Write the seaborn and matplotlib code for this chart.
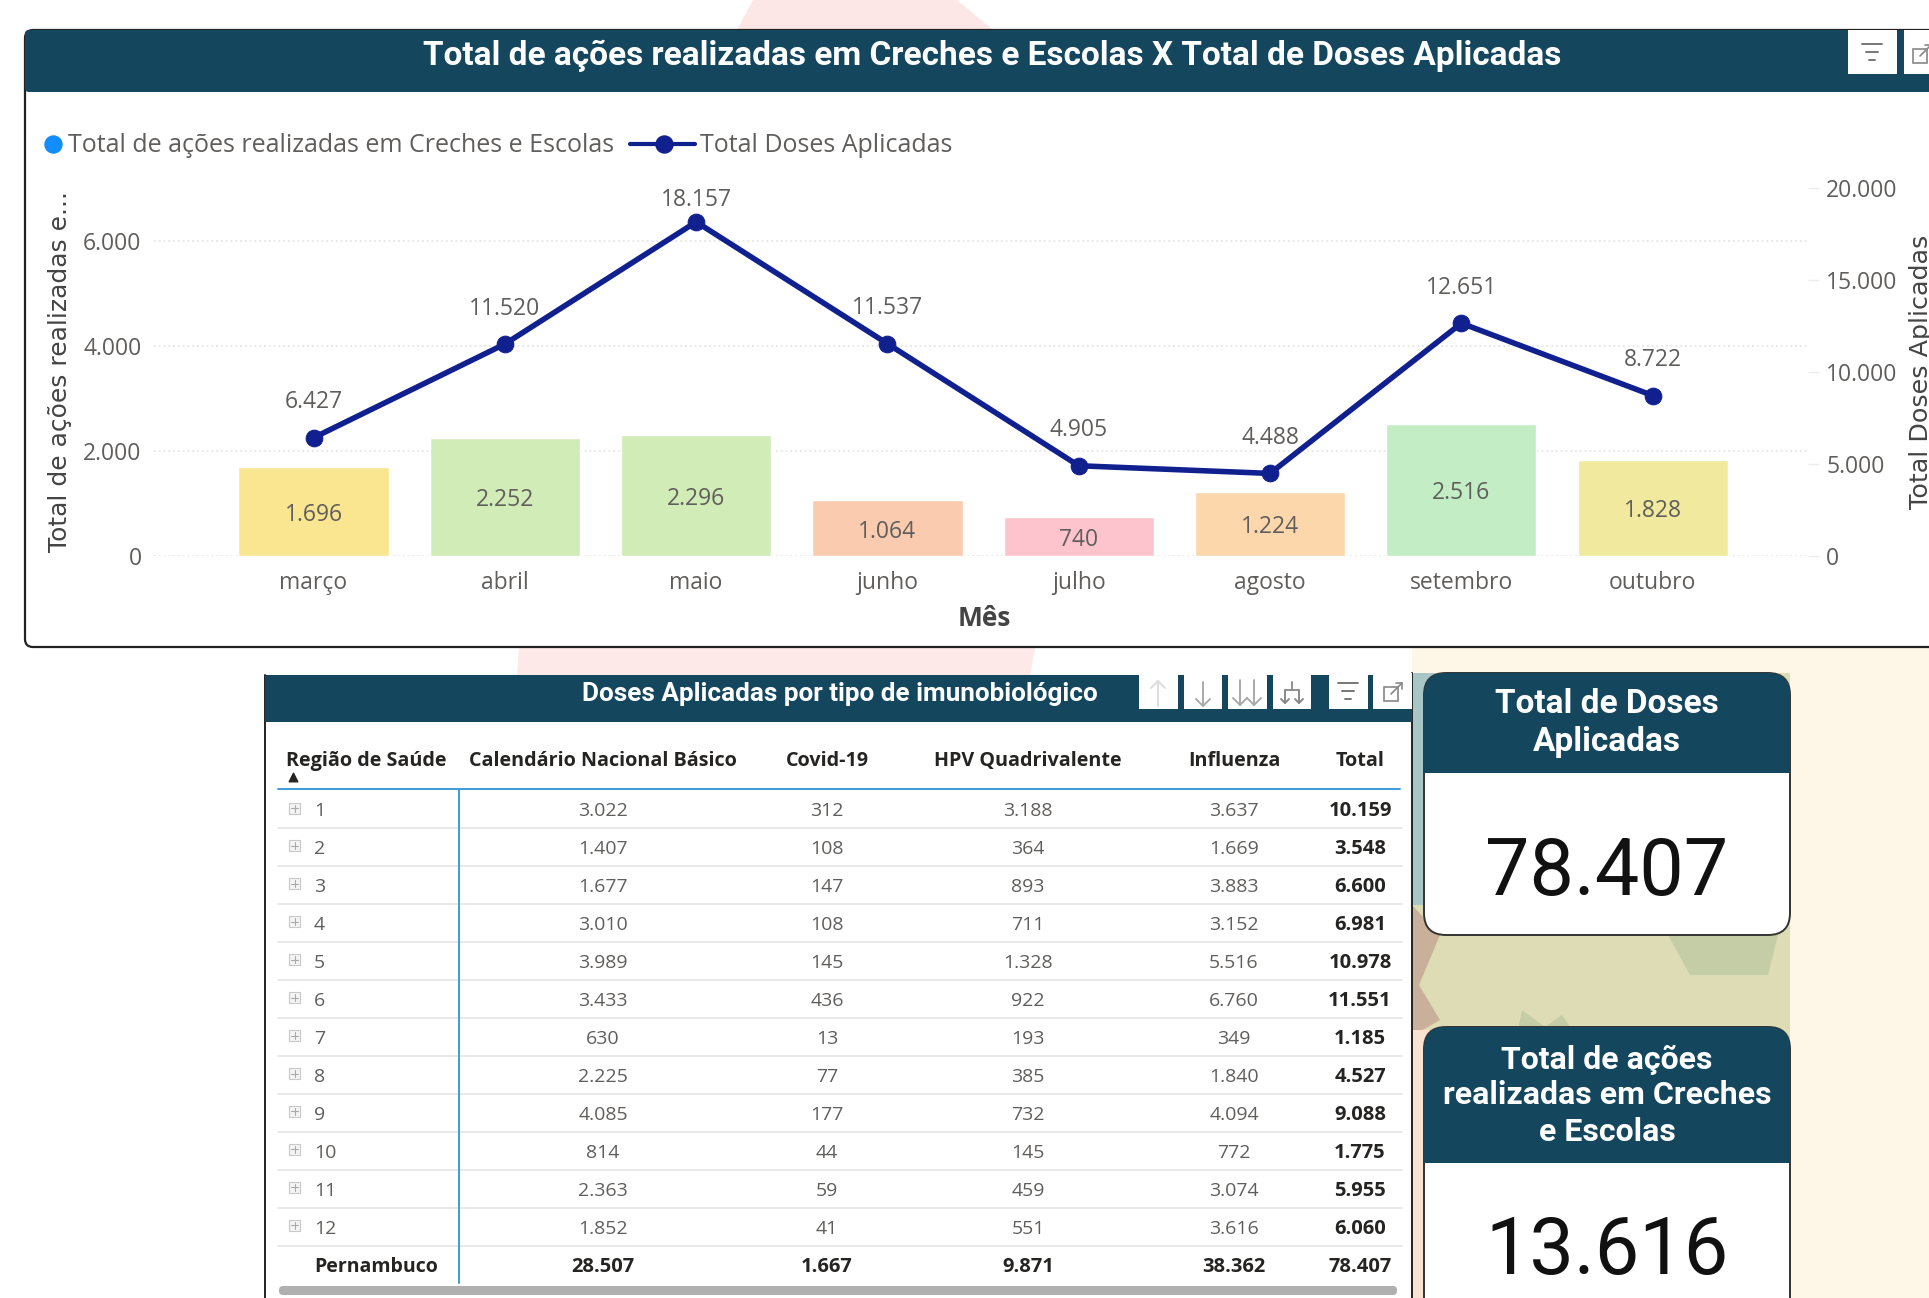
import numpy as np
import pandas as pd
import matplotlib.pyplot as plt
import seaborn as sns
from matplotlib.patches import FancyBboxPatch, Polygon, Rectangle

# ===================== dados =====================
MESES = ['março', 'abril', 'maio', 'junho', 'julho', 'agosto', 'setembro', 'outubro']
ACOES = [1696, 2252, 2296, 1064, 740, 1224, 2516, 1828]
DOSES = [6427, 11520, 18157, 11537, 4905, 4488, 12651, 8722]
CORES_BARRAS = ['#FAE591', '#D2ECB7', '#D2ECB7', '#FBCBB0', '#FDC4CD', '#FDD7AC', '#C3EDC4', '#F0E99E']
TICKS_ACOES = [0, 2000, 4000, 6000]
TICKS_DOSES = [0, 5000, 10000, 15000, 20000]

REGIOES = ['1', '2', '3', '4', '5', '6', '7', '8', '9', '10', '11', '12', 'Pernambuco']
CALENDARIO = [3022, 1407, 1677, 3010, 3989, 3433, 630, 2225, 4085, 814, 2363, 1852, 28507]
COVID = [312, 108, 147, 108, 145, 436, 13, 77, 177, 44, 59, 41, 1667]
HPV = [3188, 364, 893, 711, 1328, 922, 193, 385, 732, 145, 459, 551, 9871]
INFLUENZA = [3637, 1669, 3883, 3152, 5516, 6760, 349, 1840, 4094, 772, 3074, 3616, 38362]
TOTAL = [10159, 3548, 6600, 6981, 10978, 11551, 1185, 4527, 9088, 1775, 5955, 6060, 78407]
TOTAL_DOSES = 78407
TOTAL_ACOES = 13616

AZUL = '#14475E'
CINZA = '#605E5C'
LINHA = '#10208F'
TITULO = 'Roboto'
TEXTO = ['Open Sans', 'DejaVu Sans']


def fmt(v):
    return f'{v:,}'.replace(',', '.')


sns.set_style('white')
W, H = 1929, 1298
fig = plt.figure(figsize=(W / 100, H / 100), dpi=100, facecolor='white')

# camada de fundo em pixels
bg = fig.add_axes([0, 0, 1, 1], zorder=0)
bg.set_xlim(0, W)
bg.set_ylim(H, 0)
bg.axis('off')

bg.add_patch(Polygon([(753, 0), (957, 0), (993, 30), (737, 30)], fc='#FDE6E6', ec='none'))
bg.add_patch(Polygon([(519, 648), (1035, 648), (1030, 676), (517, 676)], fc='#FDE9E7', ec='none'))
bg.add_patch(Rectangle((1412, 648), W - 1412, H - 648, fc='#FEF6E6', ec='none'))
bg.add_patch(Rectangle((1412, 673), 378, 600, fc='#DEDCB4', ec='none'))
bg.add_patch(Rectangle((1412, 673), 30, 232, fc='#A9C6C6', ec='none'))
bg.add_patch(Polygon([(1412, 905), (1440, 935), (1419, 985), (1440, 1020), (1412, 1036)], fc='#C9B09B', ec='none'))
bg.add_patch(Rectangle((1412, 1030), 20, 268, fc='#FBE3D2', ec='none'))
bg.add_patch(Polygon([(1668, 935), (1778, 935), (1768, 975), (1690, 975)], fc='#C4CDA5', ec='none'))
bg.add_patch(Polygon([(1518, 1030), (1522, 1010), (1545, 1027), (1562, 1015), (1572, 1030)], fc='#C4CDA5', ec='none'))


def botao(x0, x1, y0, y1):
    bg.add_patch(Rectangle((x0, y0), x1 - x0, y1 - y0, fc='white', ec='none', zorder=3))


def icone_filtro(cx, cy):
    for larg, dy in [(10, -8), (6, 0), (3, 8)]:
        bg.plot([cx - larg, cx + larg], [cy + dy, cy + dy], color='#777777', lw=1.4, zorder=4)


def icone_expandir(cx, cy):
    bg.add_patch(Rectangle((cx - 9, cy - 5), 14, 14, fc='none', ec='#888888', lw=1.2, zorder=4))
    bg.plot([cx - 2, cx + 9], [cy + 2, cy - 9], color='#888888', lw=1.2, zorder=4)
    bg.plot([cx + 3, cx + 9, cx + 9], [cy - 9, cy - 9, cy - 3], color='#888888', lw=1.2, zorder=4)


def seta(cx, y0, y1, cor, ponta=7):
    bg.plot([cx, cx], [y0, y1], color=cor, lw=1.4, zorder=4)
    sentido = 1 if y1 > y0 else -1
    bg.plot([cx - ponta, cx, cx + ponta], [y1 - ponta * sentido, y1, y1 - ponta * sentido],
            color=cor, lw=1.4, zorder=4)


# painel do gráfico
bg.add_patch(FancyBboxPatch((25, 30), W, 617, boxstyle='round,pad=0,rounding_size=8',
                            fc='white', ec='#222222', lw=1.6, zorder=1))
bg.add_patch(FancyBboxPatch((25, 30), W, 62, boxstyle='round,pad=0,rounding_size=4',
                            fc=AZUL, ec='none', zorder=2))
bg.text(992, 56, 'Total de ações realizadas em Creches e Escolas X Total de Doses Aplicadas',
        color='white', fontsize=24, fontweight='bold', family=TITULO, ha='center', va='center', zorder=3)
botao(1848, 1897, 30, 74)
icone_filtro(1872, 52)
botao(1904, W, 30, 74)
icone_expandir(1922, 54)

# legenda
bg.scatter([53], [144], s=150, color='#118DFF', zorder=3)
bg.text(68, 146, 'Total de ações realizadas em Creches e Escolas', color=CINZA, fontsize=18,
        family=TEXTO, va='center', zorder=3)
bg.plot([630, 695], [144, 144], color=LINHA, lw=3, zorder=3)
bg.scatter([664], [144], s=150, color=LINHA, zorder=4)
bg.text(700, 146, 'Total Doses Aplicadas', color=CINZA, fontsize=18, family=TEXTO, va='center', zorder=3)

# ===================== barras + linha =====================
AX_L, AX_R, AX_T, AX_B = 154, 1808, 188, 556
ax = fig.add_axes([AX_L / W, 1 - AX_B / H, (AX_R - AX_L) / W, (AX_B - AX_T) / H], zorder=2)
ax.patch.set_alpha(0)
df = pd.DataFrame({'mes': MESES, 'acoes': ACOES, 'doses': DOSES})
sns.barplot(data=df, x='mes', y='acoes', hue='mes', palette=CORES_BARRAS, width=0.785,
            legend=False, saturation=1, ax=ax)
for c, v in zip(ax.containers, ACOES):
    rotulos = ax.bar_label(c, labels=[fmt(v)], label_type='center', color=CINZA, fontsize=16.5, family=TEXTO)
    for r in rotulos:
        r.xyann = (0, -2.5)
ax.set_xlim(-0.834, 7.812)
ax.set_ylim(0, 7000)
ax.set_yticks(TICKS_ACOES, [fmt(t) for t in TICKS_ACOES])
ax.grid(axis='y', color='#E6E6E6', ls=':', lw=1.3)
ax.set_axisbelow(True)
ax.tick_params(axis='both', length=0, labelsize=16.5, labelcolor=CINZA)
ax.tick_params(axis='x', pad=11)
ax.tick_params(axis='y', pad=9)
for t in ax.get_xticklabels() + ax.get_yticklabels():
    t.set_family(TEXTO)
ax.set_xlabel('Mês', fontsize=19, fontweight='bold', color='#444444', family=TEXTO)
ax.xaxis.set_label_coords((984 - AX_L) / (AX_R - AX_L), (AX_B - 619) / (AX_B - AX_T), ax.transAxes)
ax.xaxis.label.set_va('center')
ax.set_ylabel('Total de ações realizadas e...', fontsize=18, color='#444444', family='DejaVu Sans')
ax.yaxis.set_label_coords((60 - AX_L) / (AX_R - AX_L), (AX_B - 372) / (AX_B - AX_T), ax.transAxes)
ax.yaxis.label.set_va('center')
sns.despine(ax=ax, left=True, bottom=True)

ax2 = ax.twinx()
ax2.patch.set_alpha(0)
sns.lineplot(x=np.arange(len(MESES)), y=DOSES, color=LINHA, lw=4, marker='o', ms=12,
             markeredgecolor=LINHA, ax=ax2, zorder=5)
ax2.set_ylim(0, 20000)
ax2.set_yticks(TICKS_DOSES, [fmt(t) for t in TICKS_DOSES])
ax2.tick_params(axis='y', length=8, width=1, color='#EDEDED', pad=5, labelsize=16.5, labelcolor=CINZA)
for t in ax2.get_yticklabels():
    t.set_family(TEXTO)
ax2.set_ylabel('Total Doses Aplicadas', fontsize=18.3, color='#444444', family='DejaVu Sans')
ax2.yaxis.set_label_coords((1921 - AX_L) / (AX_R - AX_L), (AX_B - 372) / (AX_B - AX_T), ax2.transAxes)
ax2.yaxis.label.set_va('center')
ax2.yaxis.label.set_rotation(90)
ax2.grid(False)
sns.despine(ax=ax2, left=True, bottom=True, right=True)

for i, v in enumerate(DOSES):
    dy = 16 if v == max(DOSES) else 25.5
    ax2.annotate(fmt(v), (i, v), xytext=(0, dy), textcoords='offset points', ha='center', va='center',
                 color=CINZA, fontsize=16.5, family=TEXTO, annotation_clip=False)

# ===================== tabela =====================
bg.add_patch(Rectangle((265, 675), 1147, H - 675, fc='white', ec='none', zorder=1))
bg.plot([265, 265], [675, H], color='#222222', lw=1.4, zorder=2)
bg.plot([1412, 1412], [673, H], color='#222222', lw=1.4, zorder=2)
bg.add_patch(Rectangle((265, 675), 1147, 47, fc=AZUL, ec='none', zorder=2))
bg.text(840, 694, 'Doses Aplicadas por tipo de imunobiológico', color='white', fontsize=18.8, fontweight='bold',
        family=TITULO, ha='center', va='center', zorder=3)
for x0, x1 in [(1139, 1178), (1184, 1222), (1228, 1267), (1273, 1311), (1329, 1368), (1373, 1412)]:
    botao(x0, x1, 673, 709)
seta(1158, 706, 681, '#DDDDDD')
seta(1203, 682, 706, '#AAAAAA')
seta(1240, 680, 705, '#AAAAAA')
seta(1254, 680, 705, '#AAAAAA')
bg.plot([1292, 1292], [682, 690], color='#888888', lw=1.3, zorder=4)
bg.plot([1285, 1299], [690, 690], color='#888888', lw=1.3, zorder=4)
seta(1285, 690, 703, '#888888', ponta=4)
seta(1299, 690, 703, '#888888', ponta=4)
icone_filtro(1348, 691)
icone_expandir(1393, 692)

COLS = [(603, 'Calendário Nacional Básico', CALENDARIO), (827, 'Covid-19', COVID), (1028, 'HPV Quadrivalente', HPV),
        (1234, 'Influenza', INFLUENZA), (1360, 'Total', TOTAL)]
Y_HEAD, Y_ROW1, DY_ROW = 761, 811.5, 37.93
bg.text(286, Y_HEAD, 'Região de Saúde', color='#252423', fontsize=14.2, fontweight='bold', family=TEXTO,
        va='center', zorder=3)
bg.scatter([293], [777], marker='^', s=38, color='#252423', zorder=3)
for x, nome, valores in COLS:
    bg.text(x, Y_HEAD, nome, color='#252423', fontsize=14.2, fontweight='bold', family=TEXTO,
            ha='center', va='center', zorder=3)
    for i, v in enumerate(valores):
        negrito = nome == 'Total' or i == len(valores) - 1
        bg.text(x, Y_ROW1 + i * DY_ROW, fmt(v), color='#252423' if negrito else CINZA, fontsize=14.5 if negrito else 14,
                fontweight='bold' if negrito else 'normal', family=TEXTO, ha='center', va='center', zorder=3)
for i, r in enumerate(REGIOES):
    y = Y_ROW1 + i * DY_ROW
    ultimo = i == len(REGIOES) - 1
    bg.text(314, y, r, color='#252423' if ultimo else CINZA, fontsize=14 if ultimo else 14,
            fontweight='bold' if ultimo else 'normal', family=TEXTO, va='center', zorder=3)
    if not ultimo:
        bg.add_patch(Rectangle((289, y - 9), 11, 11, fc='#F4F4F4', ec='#C8C8C8', lw=0.8, zorder=3))
        bg.plot([291, 298], [y - 3.5, y - 3.5], color='#AAAAAA', lw=0.8, zorder=4)
        bg.plot([294.5, 294.5], [y - 7, y], color='#AAAAAA', lw=0.8, zorder=4)
        bg.plot([278, 1402], [y - 2 + DY_ROW / 2, y - 2 + DY_ROW / 2], color='#E9E9E9', lw=1.4, zorder=2)
bg.plot([278, 1400], [789, 789], color='#3D9BD9', lw=1.4, zorder=3)
bg.plot([459, 459], [789, 1283], color='#3D9BD9', lw=1.4, zorder=3)
bg.add_patch(FancyBboxPatch((279, 1286), 1118, 9, boxstyle='round,pad=0,rounding_size=4',
                            fc='#B0B0B0', ec='none', zorder=3))


# ===================== cartões =====================
def cartao(y0, y1, y_head, linhas, valor, y_valor):
    x0, x1 = 1424, 1790
    bg.add_patch(FancyBboxPatch((x0, y0), x1 - x0, y1 - y0, boxstyle='round,pad=0,rounding_size=22',
                                fc='white', ec='#333333', lw=1.4, zorder=2))
    bg.add_patch(FancyBboxPatch((x0, y0), x1 - x0, y_head - y0, boxstyle='round,pad=0,rounding_size=22',
                                fc=AZUL, ec='none', zorder=3))
    bg.add_patch(Rectangle((x0, y_head - 24), x1 - x0, 24, fc=AZUL, ec='none', zorder=3))
    for y, txt, tam in linhas:
        bg.text(1607, y, txt, color='white', fontsize=tam, fontweight='bold', family=TITULO,
                ha='center', va='center', zorder=4)
    bg.text(1607, y_valor, fmt(valor), color='#111111', fontsize=57, family='Roboto',
            ha='center', va='center', zorder=4)


cartao(673, 935, 773, [(704, 'Total de Doses', 24), (742, 'Aplicadas', 24)], TOTAL_DOSES, 873)
cartao(1027, 1340, 1163, [(1060, 'Total de ações', 23), (1095, 'realizadas em Creches', 23), (1132, 'e Escolas', 23)],
       TOTAL_ACOES, 1252)

plt.savefig('out.png', dpi=100)
plt.close()
